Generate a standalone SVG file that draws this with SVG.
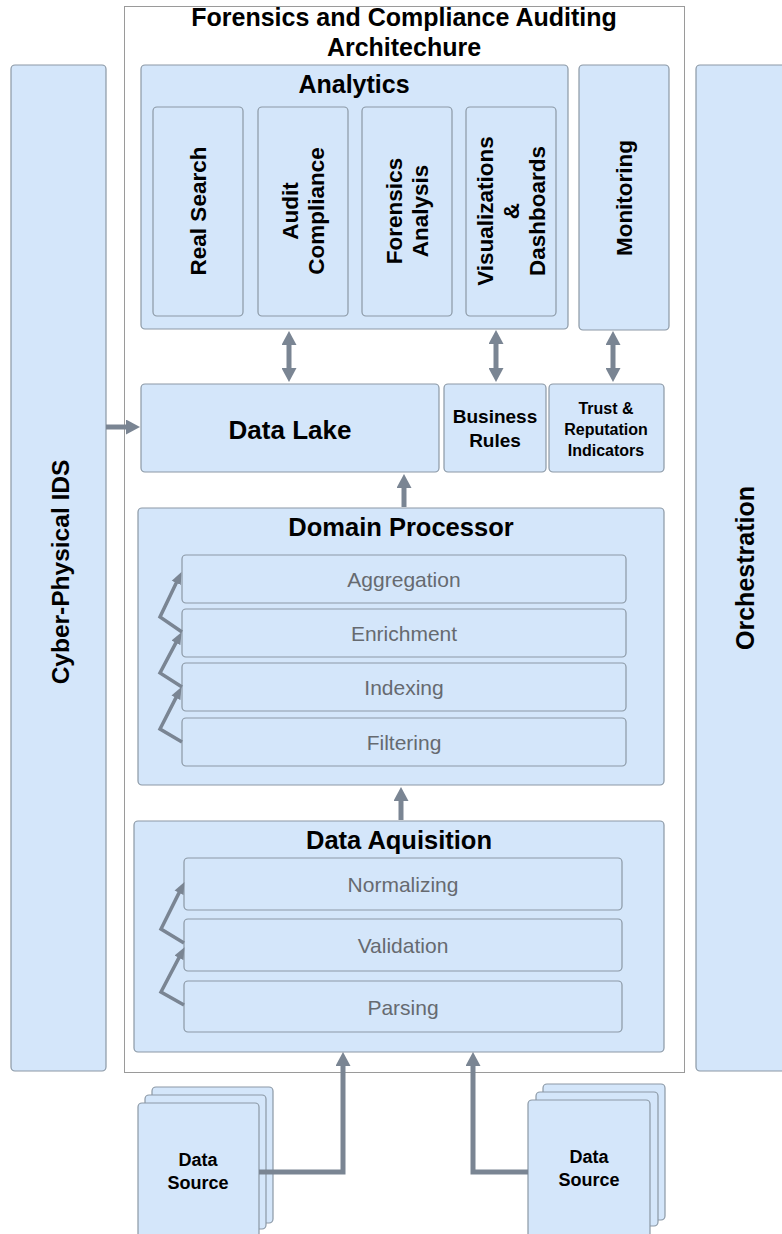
<svg xmlns="http://www.w3.org/2000/svg" width="782" height="1234" viewBox="0 0 782 1234">
  <style>
    .box { fill: #d4e6fa; stroke: #8b98a5; stroke-width: 1.2; }
    .frame { fill: #ffffff; stroke: #9a9a9a; stroke-width: 1; }
    .hd { font-family: "Liberation Sans", Arial, sans-serif; font-weight: bold; fill: #000; text-anchor: middle; }
    .step { font-family: "Liberation Sans", Arial, sans-serif; font-size: 21px; fill: #666a70; text-anchor: middle; }
    .vt { dominant-baseline: central; }
    .wire { fill: none; stroke: #7a8593; stroke-width: 5; }
    .zig { fill: none; stroke: #7a8593; stroke-width: 3.5; stroke-linejoin: miter; }
  </style>
  <defs>
    <marker id="head" markerUnits="userSpaceOnUse" markerWidth="15" markerHeight="15" refX="1" refY="7.5" orient="auto-start-reverse">
      <path d="M0,0 L14,7.5 L0,15 z" fill="#7a8593"/>
    </marker>
    <marker id="headSmall" markerUnits="userSpaceOnUse" markerWidth="12" markerHeight="11" refX="1" refY="5.5" orient="auto">
      <path d="M0,0.5 L12,5.5 L0,10.5 z" fill="#7a8593"/>
    </marker>
  </defs>

  <!-- outer frame with title -->
  <g id="frame">
    <rect class="frame" x="124.5" y="6.5" width="560" height="1066"/>
    <text class="hd" x="404" y="26" font-size="25">Forensics and Compliance Auditing</text>
    <text class="hd" x="404" y="56" font-size="25">Architechure</text>
  </g>

  <g id="cyber-ids">
    <rect class="box" x="11" y="65" width="95" height="1006" rx="4"/>
    <text class="hd vt" font-size="24.5" transform="translate(60,572) rotate(-90)">Cyber-Physical IDS</text>
  </g>

  <g id="orchestration">
    <rect class="box" x="696" y="65" width="92" height="1006" rx="4"/>
    <text class="hd vt" font-size="25" transform="translate(745,568) rotate(-90)">Orchestration</text>
  </g>

  <g id="analytics">
    <rect class="box" x="141" y="65" width="427" height="264" rx="4"/>
    <text class="hd" x="354" y="93" font-size="25">Analytics</text>
  </g>
  <g id="real-search">
    <rect class="box" x="153" y="107" width="90" height="209" rx="4"/>
    <text class="hd vt" font-size="22.5" transform="translate(198,211) rotate(-90)">Real Search</text>
  </g>
  <g id="audit-compliance">
    <rect class="box" x="258" y="107" width="90" height="209" rx="4"/>
    <text class="hd vt" font-size="22.5" transform="translate(290,211) rotate(-90)">Audit</text>
    <text class="hd vt" font-size="22.5" transform="translate(316,211) rotate(-90)">Compliance</text>
  </g>
  <g id="forensics-analysis">
    <rect class="box" x="362" y="107" width="90" height="209" rx="4"/>
    <text class="hd vt" font-size="22.5" transform="translate(394,211) rotate(-90)">Forensics</text>
    <text class="hd vt" font-size="22.5" transform="translate(420,211) rotate(-90)">Analysis</text>
  </g>
  <g id="visualizations">
    <rect class="box" x="466" y="107" width="90" height="209" rx="4"/>
    <text class="hd vt" font-size="22.5" transform="translate(485,211) rotate(-90)">Visualizations</text>
    <text class="hd vt" font-size="22.5" transform="translate(511,211) rotate(-90)">&amp;</text>
    <text class="hd vt" font-size="22.5" transform="translate(537,211) rotate(-90)">Dashboards</text>
  </g>

  <g id="monitoring">
    <rect class="box" x="579" y="65" width="90" height="265" rx="4"/>
    <text class="hd vt" font-size="22.5" transform="translate(624,198) rotate(-90)">Monitoring</text>
  </g>

  <g id="data-lake">
    <rect class="box" x="141" y="384" width="298" height="88" rx="4"/>
    <text class="hd" x="290" y="439" font-size="26">Data Lake</text>
  </g>
  <g id="business-rules">
    <rect class="box" x="444" y="384" width="102" height="88" rx="4"/>
    <text class="hd" x="495" y="423" font-size="19">Business</text>
    <text class="hd" x="495" y="447" font-size="19">Rules</text>
  </g>
  <g id="trust-reputation">
    <rect class="box" x="549" y="384" width="115" height="88" rx="4"/>
    <text class="hd" x="606" y="414" font-size="16">Trust &amp;</text>
    <text class="hd" x="606" y="435" font-size="16">Reputation</text>
    <text class="hd" x="606" y="456" font-size="16">Indicators</text>
  </g>

  <g id="domain-processor">
    <rect class="box" x="138" y="508" width="526" height="277" rx="4"/>
    <text class="hd" x="401" y="536" font-size="25.5">Domain Processor</text>
  </g>
  <g id="aggregation">
    <rect class="box" x="182" y="555" width="444" height="48" rx="4"/>
    <text class="step" x="404" y="587">Aggregation</text>
  </g>
  <g id="enrichment">
    <rect class="box" x="182" y="609" width="444" height="48" rx="4"/>
    <text class="step" x="404" y="641">Enrichment</text>
  </g>
  <g id="indexing">
    <rect class="box" x="182" y="663" width="444" height="48" rx="4"/>
    <text class="step" x="404" y="695">Indexing</text>
  </g>
  <g id="filtering">
    <rect class="box" x="182" y="718" width="444" height="48" rx="4"/>
    <text class="step" x="404" y="750">Filtering</text>
  </g>

  <g id="data-aquisition">
    <rect class="box" x="134" y="821" width="530" height="231" rx="4"/>
    <text class="hd" x="399" y="849" font-size="25.5">Data Aquisition</text>
  </g>
  <g id="normalizing">
    <rect class="box" x="184" y="858" width="438" height="52" rx="4"/>
    <text class="step" x="403" y="892">Normalizing</text>
  </g>
  <g id="validation">
    <rect class="box" x="184" y="919" width="438" height="52" rx="4"/>
    <text class="step" x="403" y="953">Validation</text>
  </g>
  <g id="parsing">
    <rect class="box" x="184" y="981" width="438" height="51" rx="4"/>
    <text class="step" x="403" y="1015">Parsing</text>
  </g>

  <g id="source-left">
    <rect class="box" x="152" y="1087" width="121" height="136" rx="4"/>
    <rect class="box" x="145" y="1095" width="121" height="134" rx="4"/>
    <rect class="box" x="138" y="1103" width="121" height="140" rx="4"/>
    <text class="hd" x="198" y="1166" font-size="18">Data</text>
    <text class="hd" x="198" y="1189" font-size="18">Source</text>
  </g>
  <g id="source-right">
    <rect class="box" x="543" y="1084" width="122" height="136" rx="4"/>
    <rect class="box" x="536" y="1092" width="122" height="134" rx="4"/>
    <rect class="box" x="528" y="1100" width="122" height="140" rx="4"/>
    <text class="hd" x="589" y="1163" font-size="18">Data</text>
    <text class="hd" x="589" y="1186" font-size="18">Source</text>
  </g>

  <g id="connectors">
    <line class="wire" x1="106" y1="427" x2="127" y2="427" marker-end="url(#head)"/>
    <line class="wire" x1="289" y1="344" x2="289" y2="369" marker-start="url(#head)" marker-end="url(#head)"/>
    <line class="wire" x1="496" y1="343" x2="496" y2="369" marker-start="url(#head)" marker-end="url(#head)"/>
    <line class="wire" x1="613" y1="344" x2="613" y2="369" marker-start="url(#head)" marker-end="url(#head)"/>
    <line class="wire" x1="404" y1="507" x2="404" y2="487" marker-end="url(#head)"/>
    <line class="wire" x1="401" y1="820" x2="401" y2="800" marker-end="url(#head)"/>
    <path class="wire" d="M259,1172 H343 V1065" marker-end="url(#head)"/>
    <path class="wire" d="M528,1172 H473 V1065" marker-end="url(#head)"/>
    <!-- stage-to-stage flow inside the processing blocks -->
    <polyline class="zig" points="182,742 160,729 176.4,696.9" marker-end="url(#headSmall)"/>
    <polyline class="zig" points="182,687 160,673 176.4,641.9" marker-end="url(#headSmall)"/>
    <polyline class="zig" points="182,632 160,617 176.7,582" marker-end="url(#headSmall)"/>
    <polyline class="zig" points="184,1005 161,992 179.4,956.9" marker-end="url(#headSmall)"/>
    <polyline class="zig" points="184,943 161,929 179.5,891.9" marker-end="url(#headSmall)"/>
  </g>
</svg>
